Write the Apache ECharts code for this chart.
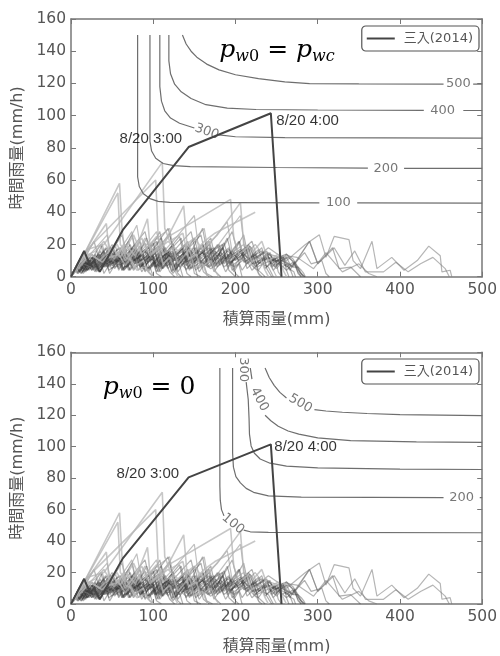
<!DOCTYPE html>
<html>
<head>
<meta charset="utf-8">
<script src="https://cdn.jsdelivr.net/npm/echarts@6/dist/echarts.min.js"></script>
<style>
  html, body { margin: 0; padding: 0; background: #fff; }
  #chart { width: 500px; height: 656px; }
</style>
</head>
<body>
<div id="chart"></div>
<script>
// 軸
const xMin = 0, xMax = 500, xStep = 100
const yMin = 0, yMax = 160, yStep = 20
const xName = '積算雨量(mm)'
const yName = '時間雨量(mm/h)'
const seriesName = '三入(2014)'

// 三入(2014) の軌跡 [積算雨量, 時間雨量]
const sanyu2014 = [[0, 0], [16, 16], [23, 7], [28, 10], [35, 3], [63, 29], [143, 80.5], [243, 101.5], [256, 0]]
const timeLabels = [[143, 80.5, '8/20 3:00'], [243, 101.5, '8/20 4:00']]

// 過去の降雨イベント (濃い灰色の束)
const pastEvents = [
  [[0,0],[6,6],[10,3],[18,9],[22,4],[35,14],[40,6],[52,12],[58,5],[75,18],[82,8],[96,15],[103,6],[118,16],[124,4],[140,13],[146,5],[160,10],[165,2],[172,0]],
  [[0,0],[4,4],[12,8],[16,3],[30,14],[34,5],[48,15],[55,8],[72,20],[78,10],[92,16],[99,6],[115,18],[121,8],[138,20],[145,9],[160,15],[168,6],[185,18],[192,4],[200,0]],
  [[0,0],[10,10],[15,5],[28,13],[33,4],[45,12],[60,18],[66,7],[84,22],[90,9],[110,24],[116,11],[130,14],[142,22],[148,8],[165,19],[172,6],[190,24],[197,10],[215,19],[222,6],[230,3],[236,0]],
  [[0,0],[8,8],[14,5],[26,12],[31,3],[42,10],[47,2],[62,15],[68,6],[80,12],[86,3],[104,18],[110,5],[125,15],[130,3],[145,15],[150,2],[158,0]],
  [[0,0],[3,3],[15,12],[19,4],[30,11],[38,20],[44,8],[56,12],[70,22],[76,9],[92,24],[98,12],[120,27],[126,10],[140,16],[158,26],[164,12],[180,20],[186,8],[205,22],[212,9],[228,17],[236,5],[248,12],[252,3],[256,0]],
  [[0,0],[12,12],[17,6],[24,7],[40,16],[46,7],[58,12],[63,5],[76,13],[82,4],[98,16],[104,6],[114,10],[120,3],[126,0]],
  [[0,0],[5,5],[9,2],[20,11],[26,7],[44,18],[50,8],[65,16],[72,9],[85,13],[100,21],[106,9],[124,20],[130,7],[150,24],[156,12],[174,18],[181,7],[196,16],[204,10],[220,18],[228,8],[240,12],[246,4],[262,14],[270,9],[278,3],[282,0]],
  [[0,0],[7,7],[11,4],[22,11],[27,5],[36,9],[52,17],[57,6],[70,13],[76,5],[88,12],[94,4],[106,12],[112,5],[128,16],[135,7],[152,18],[158,6],[170,11],[176,3],[182,0]],
  [[0,0],[9,9],[14,3],[27,13],[32,6],[50,20],[56,10],[66,10],[80,16],[86,6],[101,17],[107,8],[122,15],[127,4],[142,16],[149,9],[168,22],[175,10],[192,18],[198,6],[216,20],[223,11],[238,16],[244,6],[258,13],[262,4],[272,9],[276,2],[280,0]],
  [[0,0],[4,4],[8,2],[16,8],[20,4],[28,8],[33,5],[48,16],[53,7],[66,14],[71,4],[84,13],[90,3],[100,9],[104,2],[110,0]],
  [[0,0],[13,13],[18,4],[30,13],[36,8],[54,19],[60,9],[78,20],[84,10],[104,22],[111,12],[132,25],[138,11],[154,17],[160,6],[178,20],[184,8],[204,22],[210,9],[222,13],[228,4],[242,15],[248,7],[262,12],[268,6],[284,15],[292,8],[305,10],[310,2],[314,0]],
  [[0,0],[6,6],[11,3],[20,9],[25,4],[42,18],[47,9],[60,14],[67,6],[82,16],[88,5],[102,15],[108,6],[120,14],[126,3],[136,11],[141,2],[146,0]],
  [[0,0],[2,2],[10,8],[15,2],[24,9],[29,3],[46,17],[51,8],[64,13],[70,4],[90,21],[96,10],[112,17],[118,5],[135,18],[141,9],[160,20],[166,8],[186,21],[192,11],[208,16],[214,5],[224,10],[228,2],[232,0]],
  [[0,0],[8,8],[13,6],[26,14],[31,7],[48,18],[54,9],[70,17],[77,10],[96,20],[102,8],[118,16],[124,6],[142,19],[150,11],[168,18],[175,7],[192,17],[200,10],[218,19],[225,8],[240,15],[248,9],[258,12],[266,4],[290,22],[300,8],[318,18],[326,5],[340,6],[348,2],[352,0]],
  [[0,0],[10,7],[24,12],[36,6],[52,14],[64,8],[82,15],[94,9],[112,16],[126,10],[144,17],[156,9],[174,16],[188,11],[206,17],[218,10],[234,15],[245,10],[252,12],[262,14],[270,11],[276,6],[280,2],[284,0]],
  [[0,0],[7,5],[16,10],[26,6],[40,12],[50,7],[66,14],[78,8],[94,13],[106,7],[124,15],[136,8],[152,12],[164,7],[182,15],[194,9],[210,14],[222,8],[236,12],[248,6],[256,10],[264,12],[272,9],[278,3],[284,0]],
  [[0,0],[16,16],[22,8],[36,20],[42,10],[62,26],[68,14],[90,28],[96,15],[118,30],[125,16],[146,28],[152,14],[170,24],[176,10],[196,28],[203,14],[220,22],[228,9],[240,6],[246,0]],
  [[0,0],[5,5],[14,9],[28,22],[34,11],[50,18],[56,9],[74,26],[80,12],[100,20],[108,28],[114,13],[134,24],[140,9],[160,30],[166,14],[184,20],[190,8],[210,26],[216,11],[232,16],[238,5],[244,0]],
  [[0,0],[3,3],[9,6],[13,2],[22,10],[27,4],[40,15],[46,6],[58,13],[64,5],[78,17],[84,7],[98,14],[104,5],[118,12],[122,3],[136,14],[142,6],[156,12],[161,3],[168,0]],
  [[0,0],[11,11],[15,4],[26,11],[30,5],[44,14],[49,5],[60,11],[64,4],[74,10],[88,14],[93,5],[104,11],[108,3],[120,12],[125,4],[132,7],[136,0]],
  [[0,0],[7,7],[10,3],[19,9],[24,5],[36,12],[44,8],[58,14],[62,4],[70,8],[82,12],[87,5],[98,11],[110,12],[116,7],[124,8],[130,2],[134,0]],
  [[0,0],[4,4],[12,8],[20,8],[26,6],[38,12],[44,6],[60,16],[66,6],[80,14],[87,7],[106,19],[111,5],[124,13],[132,8],[150,18],[155,5],[168,13],[176,8],[190,14],[196,4],[204,8],[208,0]],
  [[0,0],[9,7],[20,11],[25,4],[34,9],[48,14],[53,5],[66,13],[73,7],[90,17],[95,5],[110,15],[116,6],[134,18],[140,7],[158,18],[166,10],[184,18],[190,6],[206,16],[214,8],[232,18],[238,6],[250,12],[256,6],[264,8],[270,0]],
  [[0,0],[5,5],[8,3],[14,6],[18,4],[24,6],[30,6],[42,12],[46,4],[52,6],[60,8],[64,4],[72,8],[76,4],[86,10],[90,4],[96,6],[100,0]],
  [[0,0],[14,14],[20,6],[34,14],[40,6],[58,18],[65,7],[84,19],[91,8],[112,21],[120,8],[140,20],[148,8],[168,20],[174,6],[186,12],[194,8],[212,18],[220,8],[236,16],[244,8],[256,12],[262,6],[270,9],[276,3],[280,0]],
  [[0,0],[6,4],[14,8],[22,8],[30,4],[42,12],[50,8],[62,12],[74,12],[82,8],[98,16],[104,6],[120,16],[126,6],[140,14],[144,4],[160,16],[166,6],[180,14],[186,6],[196,10],[200,2],[204,0]],
  [[0,0],[8,8],[16,8],[20,4],[36,16],[42,6],[54,12],[62,8],[78,16],[84,6],[96,12],[102,6],[118,16],[124,6],[138,14],[143,5],[150,7],[154,0]],
  [[0,0],[5,5],[12,7],[18,3],[30,12],[38,6],[52,14],[58,4],[76,18],[84,6],[98,14],[104,3],[124,20],[132,6],[146,14],[152,4],[170,18],[178,6],[192,14],[198,3],[216,18],[224,6],[240,14],[250,10],[258,8],[264,6],[268,4],[271,3],[273,0]],
  [[0,0],[3,3],[8,5],[12,2],[20,8],[28,8],[34,3],[44,10],[56,12],[62,4],[76,14],[88,12],[94,3],[108,14],[118,10],[124,2],[140,16],[150,10],[156,3],[172,16],[182,10],[188,3],[204,16],[214,10],[220,4],[236,12],[246,10],[256,10],[264,8],[270,6],[276,6],[280,4],[283,2],[285,0]],
  [[0,0],[10,8],[14,3],[26,12],[36,10],[40,2],[54,14],[66,12],[72,4],[88,16],[100,12],[106,3],[122,16],[134,12],[140,4],[156,16],[168,12],[174,3],[190,16],[202,12],[208,4],[222,14],[232,10],[244,12],[252,8],[258,6],[262,4],[265,0]]
]

// 中程度のピークを持つイベント
const midEvents = [
  [[0,0],[10,8],[22,12],[30,8],[48,18],[56,14],[74,28],[80,12],[92,20],[104,28],[110,14],[124,22],[150,38],[156,14],[168,20],[190,34],[196,15],[210,20],[218,8],[226,4],[230,0]],
  [[0,0],[8,6],[20,12],[44,26],[50,10],[62,14],[80,32],[86,14],[100,22],[120,30],[126,12],[140,18],[162,30],[168,12],[188,26],[206,38],[212,14],[224,20],[236,12],[246,4],[250,0]]
]

// 過去の降雨イベント (薄い灰色、ピークの高いもの)
const lightEvents = [
  [[0,0],[8,8],[17,15],[59,58],[62,30],[66,12],[74,10],[80,4],[90,6],[96,2],[100,0]],
  [[0,0],[10,9],[16,14],[57,52],[60,20],[70,13],[76,6],[88,10],[94,3],[100,0]],
  [[0,0],[12,10],[20,17],[40,20],[111,71],[114,30],[120,22],[136,27],[143,11],[152,14],[158,6],[170,10],[176,3],[180,0]],
  [[0,0],[6,6],[22,18],[103,60],[106,25],[112,14],[124,18],[130,8],[144,17],[150,5],[160,8],[166,0]],
  [[0,0],[10,10],[20,16],[43,33],[47,12],[58,14],[66,7],[78,16],[93,36],[97,14],[106,18],[112,8],[120,12],[126,4],[130,0]],
  [[0,0],[14,12],[30,16],[40,22],[52,11],[66,20],[78,13],[90,24],[100,15],[119,25],[194,48],[198,24],[204,14],[214,18],[220,9],[230,12],[236,4],[240,0]],
  [[0,0],[9,8],[22,14],[35,10],[50,18],[60,12],[76,26],[86,14],[104,25],[112,19],[137,44],[141,20],[150,15],[162,22],[175,27],[224,40]],
  [[0,0],[10,6],[24,14],[38,9],[56,20],[66,10],[86,24],[96,13],[118,22],[130,16],[150,24],[160,17],[178,26],[206,46],[210,20],[222,16],[232,22],[240,10],[252,14],[258,4],[262,0]]
]

// 積算雨量の大きいイベント
const tailEvents = [
  [[0,0],[8,6],[20,12],[34,8],[50,14],[62,9],[80,16],[92,10],[110,18],[124,12],[140,17],[154,10],[170,16],[184,9],[200,15],[214,8],[228,13],[240,18],[262,10],[285,20],[302,26],[310,12],[320,25],[338,23],[343,10],[352,5],[366,22],[372,5],[390,12],[405,4],[421,10],[435,19],[449,13],[451,3],[461,4],[463,0]],
  [[0,0],[6,5],[18,10],[30,7],[44,13],[56,8],[72,14],[84,9],[100,15],[112,8],[128,14],[140,7],[156,13],[168,6],[184,12],[196,7],[212,13],[224,8],[240,14],[255,12],[270,6],[290,22],[300,8],[320,18],[333,7],[345,16],[358,3],[380,3],[395,9],[410,3],[425,8],[440,12],[455,5],[460,0]],
  [[0,0],[5,3],[15,8],[28,5],[40,10],[54,6],[70,12],[82,7],[98,12],[110,6],[126,11],[140,5],[156,10],[170,5],[186,11],[198,6],[214,12],[226,6],[242,10],[250,5],[262,13],[275,12],[295,5],[310,15],[330,3],[350,8],[362,2],[372,0]]
]

// 等値線 (上段: p_w0 = p_wc)
const topContours = [
  [[81,150],[81,62],[83,56],[88,51.5],[96,48.5],[106,46.8],[120,46.2],[200,46],[302,45.8]],
  [[348,45.8],[500,45.7]],
  [[96,150],[96,84],[98,78],[103,73.5],[112,70.3],[125,69],[145,68.4],[250,67.8],[361,67.4]],
  [[405,67.3],[500,67.2]],
  [[108,150],[108,118],[110,109],[114,103],[121,98.5],[132,95.3],[150,92.3]],
  [[180,88],[200,86.9],[260,86.4],[500,86]],
  [[119,150],[119,134],[121,126],[126,119.5],[134,114.8],[146,110.6],[164,106.8],[190,104.7],[225,103.8],[300,103.5],[429,103.3]],
  [[477,103.2],[500,103.2]],
  [[135.5,150],[140,144.5],[146,140],[153,136.3],[165,132],[180,128.4],[200,125.4],[228,123],[260,121],[290,119.9],[350,119.7],[453,119.6]],
  [[489,119.6],[500,119.6]]
]
const topContourLabels = [[325, 45.8, '100', 0], [383, 67.4, '200', 0], [165, 90, '300', -20], [452, 103.3, '400', 0], [471, 119.6, '500', 0]]

// 等値線 (下段: p_w0 = 0)
const botContours = [
  [[181,150],[181,75],[181.5,66],[183,60],[186,56]],
  [[210,47],[218,45.9],[240,45.5],[500,45.3]],
  [[196.5,150],[196.5,96],[197.5,87],[200.5,81],[206,77],[213,73.5],[222,71],[240,68.7],[280,67.9],[453,67.6]],
  [[497,67.6],[500,67.6]],
  [[213,141],[215.5,130],[216.5,118],[217,108],[219,100.5],[223,95.8],[230,92.2],[242,89.5],[262,87.6],[300,86.5],[400,85.8],[500,85.5]],
  [[218,150],[220,143]],
  [[236,120],[243,116.5],[252,113],[264,110],[277,108],[300,105.6],[340,103.8],[420,103],[500,102.7]],
  [[236,150],[241,144],[247,139],[254,134.5],[262,131]],
  [[296,123.6],[310,122.7],[330,121.9],[360,121.1],[400,120.4],[500,119.8]]
]
const botContourLabels = [[197, 51, '100', -40], [475, 67.6, '200', 0], [210, 149, '300', -90], [229, 130, '400', -62], [279, 127.5, '500', -30]]

const chartDom = document.getElementById('chart')
const myChart = echarts.init(chartDom)

const grids = [
  { left: 71, top: 19, width: 414.7, height: 257.7 },
  { left: 71, top: 352.3, width: 414.7, height: 256 }
]

const frameColor = '#777'
const textColor = '#555'
const tickFont = 'DejaVu Sans'
const cjkFont = 'DejaVu Sans, Noto Sans CJK JP'

const xAxes = []
const yAxes = []
grids.forEach((_, g) => {
  xAxes.push({
    gridIndex: g, type: 'value', min: xMin, max: xMax, interval: xStep,
    axisLine: { show: true, onZero: false, lineStyle: { color: frameColor, width: 1.5 } },
    axisTick: { show: true, inside: true, length: 5, lineStyle: { color: frameColor } },
    axisLabel: { color: textColor, fontSize: 15.5, fontFamily: tickFont, margin: 5 },
    splitLine: { show: false },
    name: xName, nameLocation: 'middle', nameGap: 35,
    nameTextStyle: { color: textColor, fontSize: 16, fontFamily: cjkFont }
  })
  xAxes.push({
    gridIndex: g, type: 'value', position: 'top', min: xMin, max: xMax, interval: xStep,
    axisLine: { show: true, onZero: false, lineStyle: { color: frameColor, width: 1.5 } },
    axisTick: { show: true, inside: true, length: 5, lineStyle: { color: frameColor } },
    axisLabel: { show: false }, splitLine: { show: false }
  })
  yAxes.push({
    gridIndex: g, type: 'value', min: yMin, max: yMax, interval: yStep,
    axisLine: { show: true, onZero: false, lineStyle: { color: frameColor, width: 1.5 } },
    axisTick: { show: true, inside: true, length: 5, lineStyle: { color: frameColor } },
    axisLabel: { color: textColor, fontSize: 15.5, fontFamily: tickFont, margin: 5 },
    splitLine: { show: false },
    name: yName, nameLocation: 'middle', nameGap: 42, nameRotate: 90,
    nameTextStyle: { color: textColor, fontSize: 16, fontFamily: cjkFont }
  })
  yAxes.push({
    gridIndex: g, type: 'value', position: 'right', min: yMin, max: yMax, interval: yStep,
    axisLine: { show: true, onZero: false, lineStyle: { color: frameColor, width: 1.5 } },
    axisTick: { show: true, inside: true, length: 5, lineStyle: { color: frameColor } },
    axisLabel: { show: false }, splitLine: { show: false }
  })
})

const lineSeries = (list, g, color, width) => list.map(d => ({
  type: 'line', xAxisIndex: 2 * g, yAxisIndex: 2 * g, data: d,
  symbol: 'none', silent: true, lineStyle: { color: color, width: width }, z: 2
}))

// 時刻ラベルの位置 (上段・下段)
const timeLabelStyle = [
  [{ position: 'left', distance: 6, offset: [0, -8] }, { position: 'right', distance: 5, offset: [0, 8] }],
  [{ position: 'left', distance: 9, offset: [0, -4] }, { position: 'right', distance: 3, offset: [0, 3] }]
]

const series = []
grids.forEach((_, g) => {
  const contours = g === 0 ? topContours : botContours
  const cLabels = g === 0 ? topContourLabels : botContourLabels
  series.push(...lineSeries(pastEvents, g, 'rgba(60,60,60,0.4)', 1.2))
  series.push(...lineSeries(tailEvents, g, 'rgba(120,120,120,0.55)', 1.2))
  series.push(...lineSeries(midEvents, g, 'rgba(150,150,150,0.6)', 1.2))
  series.push(...lineSeries(lightEvents, g, 'rgba(180,180,180,0.75)', 1.6))
  series.push(...lineSeries(contours, g, '#6e6e6e', 1.2))
  series.push({
    type: 'scatter', xAxisIndex: 2 * g, yAxisIndex: 2 * g, silent: true,
    symbolSize: 1, itemStyle: { color: 'transparent' },
    label: { show: true, position: 'inside', color: textColor, fontSize: 13, fontFamily: tickFont },
    data: cLabels.map(([x, y, t, r]) => ({ value: [x, y], label: { formatter: t, rotate: r } })),
    z: 4
  })
  series.push({
    name: seriesName, type: 'line', xAxisIndex: 2 * g, yAxisIndex: 2 * g,
    data: sanyu2014, symbol: 'none', silent: true,
    itemStyle: { color: '#444' }, lineStyle: { color: '#444', width: 2 }, z: 5
  })
  series.push({
    type: 'scatter', xAxisIndex: 2 * g, yAxisIndex: 2 * g, silent: true,
    symbolSize: 1, itemStyle: { color: 'transparent' },
    label: { show: true, color: '#000', fontSize: 15, fontFamily: 'Liberation Sans' },
    data: timeLabels.map(([x, y, t], i) => ({ value: [x, y], label: Object.assign({ formatter: t }, timeLabelStyle[g][i]) })),
    z: 6
  })
})

const mathRich = {
  i: { fontFamily: 'DejaVu Serif', fontStyle: 'italic', fontSize: 25, color: '#111' },
  n: { fontFamily: 'DejaVu Serif', fontSize: 25, color: '#111' },
  si: { fontFamily: 'DejaVu Serif', fontStyle: 'italic', fontSize: 16, color: '#111', padding: [14, 0, 0, 0] },
  sn: { fontFamily: 'DejaVu Serif', fontSize: 16, color: '#111', padding: [14, 0, 0, 0] }
}

const option = {
  animation: false,
  backgroundColor: '#fff',
  grid: grids,
  xAxis: xAxes,
  yAxis: yAxes,
  legend: grids.map((_, g) => ({
    data: [seriesName],
    right: 21, top: g === 0 ? 26 : 359,
    icon: 'rect', itemWidth: 28, itemHeight: 2,
    itemStyle: { color: '#444' },
    padding: [6, 6, 6, 5],
    borderColor: '#555', borderWidth: 1.2, borderRadius: 4,
    backgroundColor: '#fff',
    textStyle: { color: textColor, fontSize: 13, fontFamily: cjkFont, padding: [0, 0, 0, 4] }
  })),
  graphic: [
    {
      type: 'text', x: 277, y: 50, z: 10,
      style: {
        text: '{i|p}{si|w}{sn|0}{n| = }{i|p}{si|wc}',
        rich: mathRich, align: 'center', verticalAlign: 'middle'
      }
    },
    {
      type: 'text', x: 149, y: 387, z: 10,
      style: {
        text: '{i|p}{si|w}{sn|0}{n| = 0}',
        rich: mathRich, align: 'center', verticalAlign: 'middle'
      }
    }
  ],
  series: series
}

option && myChart.setOption(option)
</script>
</body>
</html>
